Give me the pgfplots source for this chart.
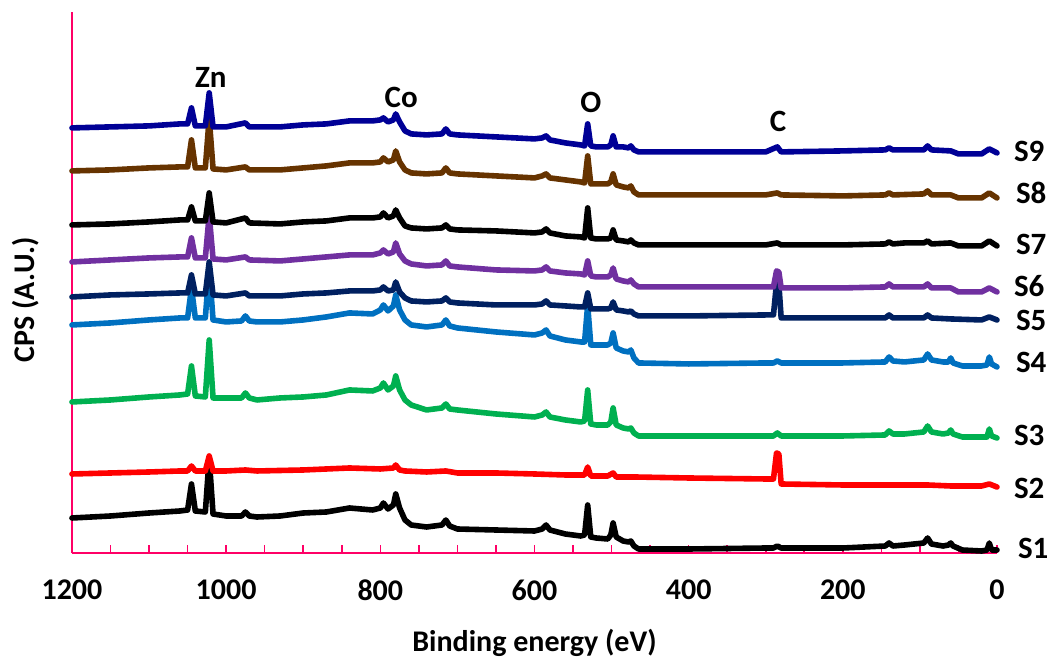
\documentclass[border=0pt]{standalone}
\usepackage{fontspec}
\setmainfont{Carlito}
\usepackage{pgfplots}
\pgfplotsset{compat=1.18}

\definecolor{axispink}{RGB}{255,0,102}
\definecolor{cS9}{RGB}{0,0,150}
\definecolor{cS8}{RGB}{102,51,0}
\definecolor{cS7}{RGB}{0,0,0}
\definecolor{cS6}{RGB}{112,48,160}
\definecolor{cS5}{RGB}{0,32,96}
\definecolor{cS4}{RGB}{0,112,192}
\definecolor{cS3}{RGB}{0,176,80}
\definecolor{cS2}{RGB}{255,0,0}
\definecolor{cS1}{RGB}{0,0,0}

\newcommand{\lblfont}{\fontsize{15.5}{17}\selectfont\bfseries}
\newcommand{\axfont}{\fontsize{15}{17}\selectfont\bfseries}

\begin{document}
\begin{tikzpicture}
\path[use as bounding box] (-36pt,-54.5pt) rectangle (487.5pt,276.5pt);
\begin{axis}[
  scale only axis,
  width=462.5pt, height=270.5pt,
  xmin=0, xmax=1200, x dir=reverse,
  ymin=0, ymax=541,
  axis x line*=bottom, axis y line*=left,
  axis line style={axispink, line width=1pt},
  xtick={0,200,400,600,800,1000,1200},
  xticklabels={0,200,400,600,800,1000,1200},
  minor xtick={50,100,150,250,300,350,450,500,550,650,700,750,850,900,950,1050,1100,1150},
  ytick=\empty,
  tick align=inside,
  major tick length=4pt, minor tick length=4pt,
  every tick/.style={axispink, line width=0.8pt},
  xticklabel style={font=\axfont, yshift=-10pt},
  xlabel={Binding energy (eV)},
  xlabel style={font=\axfont, at={(axis description cs:0.5,0)}, anchor=center, yshift=-45pt},
  ylabel={CPS (A.U.)},
  ylabel style={font=\axfont, at={(axis description cs:-0.05,0.468)}, anchor=center, rotate=0},
  clip=false,
  every axis plot/.append style={line width=2.8pt, line join=round, line cap=round},
]

% S1
\addplot[cS1] coordinates {
(1200,35) (1150,37) (1100,40) (1060,42) (1050,43) (1045,69) (1040,42) (1027,41) (1022,95) (1017,39)
(1000,37) (980,37) (975,41) (970,37) (960,36) (930,37) (900,40) (870,41) (840,45) (810,43)
(800,45) (796,50) (790,44) (783,48) (780,59) (775,45) (768,33) (760,28) (740,26) (720,28)
(715,33) (710,27) (700,24) (650,23) (600,22) (590,24) (585,28) (580,23) (560,19) (540,17)
(535,18) (531,48) (527,16) (520,15) (505,14) (501,18) (498,30) (494,16) (485,12) (478,11)
(475,12) (471,7) (465,4) (400,4) (300,5) (290,5) (285,7) (280,5) (200,5) (145,7)
(140,10) (135,7) (120,8) (95,10) (90,15) (85,9) (70,7) (63,8) (60,10) (57,7)
(45,3) (20,2) (13,3) (10,10) (7,3) (0,3)
};

% S2
\addplot[cS2] coordinates {
(1200,79) (1150,80) (1100,81) (1060,82) (1050,82) (1045,87) (1040,82) (1027,82) (1022,97) (1017,82)
(1000,82) (975,83) (960,82) (900,83) (840,85) (800,84) (783,85) (780,88) (775,83) (768,82)
(740,81) (715,82) (700,80) (650,80) (600,79) (560,78) (535,78) (531,86) (527,77) (505,77)
(498,80) (494,76) (470,76) (400,75) (300,74) (290,74) (286,100) (283,99) (280,69) (200,68)
(140,68) (90,68) (60,67) (20,67) (10,69) (0,66)
};

% S3
\addplot[cS3] coordinates {
(1200,151) (1150,153) (1100,156) (1060,158) (1050,159) (1045,187) (1040,157) (1027,156) (1022,213) (1017,155)
(1000,155) (980,155) (975,160) (970,155) (960,153) (930,155) (900,156) (870,158) (840,163) (810,162)
(800,165) (796,170) (790,163) (783,167) (780,177) (775,163) (768,153) (760,148) (740,143) (720,145)
(715,149) (710,144) (700,143) (650,139) (600,136) (590,138) (585,141) (580,136) (560,133) (540,131)
(535,132) (531,163) (527,129) (520,128) (505,128) (501,131) (498,145) (494,128) (485,125) (478,124)
(475,125) (471,120) (465,117) (400,117) (300,117) (290,117) (285,120) (280,117) (200,117) (145,118)
(140,122) (135,119) (120,119) (95,121) (90,127) (85,121) (70,119) (63,120) (60,123) (57,119)
(45,116) (20,116) (13,116) (10,124) (7,117) (0,115)
};

% S4
\addplot[cS4] coordinates {
(1200,228) (1150,230) (1100,233) (1060,235) (1050,235) (1045,265) (1040,235) (1027,235) (1022,285) (1017,233)
(1000,231) (980,232) (975,237) (970,232) (960,231) (930,231) (900,233) (870,236) (840,240) (810,239)
(800,243) (796,248) (790,242) (783,247) (780,258) (775,243) (768,233) (760,228) (740,226) (720,228)
(715,233) (710,227) (700,225) (650,221) (600,218) (590,220) (585,223) (580,217) (560,213) (540,211)
(535,211) (531,248) (527,208) (520,208) (505,208) (501,210) (498,220) (494,205) (485,202) (478,201)
(475,203) (471,195) (465,190) (400,189) (300,190) (290,190) (285,192) (280,190) (200,190) (145,191)
(140,196) (135,192) (120,191) (95,193) (90,199) (85,193) (70,191) (63,191) (60,195) (57,190)
(45,187) (20,187) (13,188) (10,196) (7,189) (0,186)
};

% S5
\addplot[cS5] coordinates {
(1200,256) (1150,258) (1100,259) (1060,260) (1050,260) (1045,278) (1040,259) (1027,259) (1022,291) (1017,258)
(1000,257) (975,260) (970,257) (930,257) (900,259) (870,260) (840,262) (810,262) (800,263) (796,266)
(790,262) (783,263) (780,271) (775,261) (768,255) (760,252) (740,251) (720,252) (715,255) (710,251)
(700,250) (650,248) (600,248) (590,249) (585,252) (580,248) (560,247) (540,246) (535,246) (531,260)
(527,244) (520,244) (505,244) (501,245) (498,251) (494,243) (485,242) (478,241) (475,242) (471,239)
(465,237) (400,237) (300,238) (290,238) (286,270) (283,269) (280,235) (200,235) (145,235) (140,238)
(135,235) (95,235) (90,238) (85,235) (60,234) (20,233) (10,236) (0,233)
};

% S6
\addplot[cS6] coordinates {
(1200,291) (1150,293) (1100,295) (1060,296) (1050,296) (1045,315) (1040,295) (1027,295) (1022,338) (1017,294)
(1000,293) (975,296) (970,293) (930,292) (900,294) (870,296) (840,298) (810,298) (800,300) (796,303)
(790,299) (783,301) (780,310) (775,299) (768,292) (760,289) (740,287) (720,288) (715,292) (710,287)
(700,286) (650,283) (600,282) (590,283) (585,286) (580,282) (560,280) (540,279) (535,278) (531,292)
(527,277) (520,276) (505,276) (501,278) (498,285) (494,274) (485,272) (478,271) (475,273) (471,269)
(465,266) (400,266) (300,266) (290,266) (286,282) (283,281) (280,265) (200,265) (145,266) (140,269)
(135,266) (95,266) (90,269) (85,265) (60,265) (50,261) (20,261) (10,265) (0,261)
};

% S7
\addplot[cS7] coordinates {
(1200,328) (1150,329) (1100,331) (1060,333) (1050,333) (1045,346) (1040,332) (1027,332) (1022,360) (1017,331)
(1000,330) (975,335) (970,330) (930,329) (900,331) (870,332) (840,335) (810,335) (800,336) (796,340)
(790,335) (783,337) (780,343) (775,335) (768,327) (760,325) (740,324) (720,325) (715,328) (710,324)
(700,323) (650,322) (600,320) (590,321) (585,324) (580,320) (560,317) (540,316) (535,315) (531,345)
(527,315) (520,314) (505,314) (501,315) (498,323) (494,313) (485,312) (478,311) (475,313) (471,310)
(465,308) (400,308) (300,308) (285,310) (280,308) (200,308) (145,309) (140,311) (135,309) (120,310)
(95,310) (90,312) (85,309) (60,310) (50,307) (20,307) (10,312) (0,307)
};

% S8
\addplot[cS8] coordinates {
(1200,382) (1150,383) (1100,385) (1060,386) (1050,386) (1045,413) (1040,385) (1027,385) (1022,435) (1017,384)
(1000,383) (975,386) (970,383) (930,383) (900,385) (870,387) (840,390) (810,390) (800,391) (796,395)
(790,391) (783,393) (780,402) (775,391) (768,383) (760,380) (740,379) (720,380) (715,385) (710,380)
(700,379) (650,377) (600,375) (590,377) (585,379) (580,375) (560,373) (540,371) (535,370) (531,397)
(527,369) (520,369) (505,369) (501,371) (498,379) (494,368) (485,366) (478,365) (475,367) (471,361)
(465,358) (400,358) (300,358) (285,360) (280,358) (200,357) (145,358) (140,360) (135,358) (95,359)
(90,362) (85,358) (60,358) (50,355) (20,355) (10,360) (0,355)
};

% S9
\addplot[cS9] coordinates {
(1200,425) (1150,426) (1100,427) (1060,429) (1050,429) (1045,445) (1040,427) (1027,427) (1022,460) (1017,426)
(1000,426) (975,430) (970,426) (930,426) (900,428) (870,429) (840,432) (810,432) (800,433) (796,435)
(790,431) (783,433) (780,439) (775,431) (768,422) (760,419) (740,418) (720,419) (715,424) (710,419)
(700,418) (650,416) (600,414) (590,415) (585,417) (580,413) (560,410) (540,408) (535,407) (531,429)
(527,407) (520,406) (505,406) (501,408) (498,417) (494,406) (485,406) (478,405) (475,407) (471,403)
(465,401) (400,401) (300,401) (285,406) (280,401) (200,402) (145,403) (140,405) (135,403) (95,403)
(90,407) (85,403) (60,402) (50,399) (20,399) (10,404) (0,400)
};

% element labels
\node[font=\lblfont] at (axis cs:1020,475) {Zn};
\node[font=\lblfont] at (axis cs:773,455) {Co};
\node[font=\lblfont] at (axis cs:527,450) {O};
\node[font=\lblfont] at (axis cs:284,431) {C};

% sample labels
\node[font=\lblfont, anchor=west] at (axis cs:0,401) [xshift=5pt] {S9};
\node[font=\lblfont, anchor=west] at (axis cs:0,360) [xshift=6pt] {S8};
\node[font=\lblfont, anchor=west] at (axis cs:0,308) [xshift=6pt] {S7};
\node[font=\lblfont, anchor=west] at (axis cs:0,267) [xshift=5pt] {S6};
\node[font=\lblfont, anchor=west] at (axis cs:0,233) [xshift=6pt] {S5};
\node[font=\lblfont, anchor=west] at (axis cs:0,191) [xshift=6pt] {S4};
\node[font=\lblfont, anchor=west] at (axis cs:0,118) [xshift=5pt] {S3};
\node[font=\lblfont, anchor=west] at (axis cs:0,65) [xshift=5pt] {S2};
\node[font=\lblfont, anchor=west] at (axis cs:0,5) [xshift=7pt] {S1};
\end{axis}
\end{tikzpicture}
\end{document}
